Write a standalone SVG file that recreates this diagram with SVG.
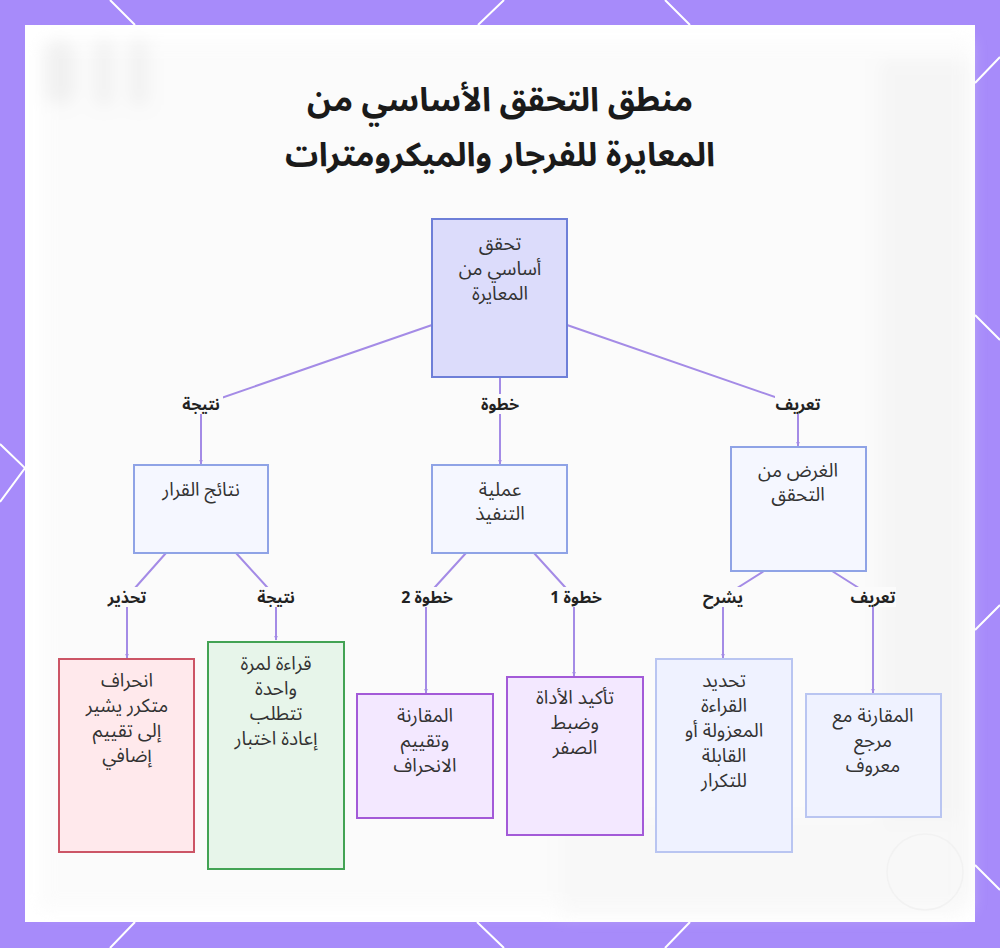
<svg xmlns="http://www.w3.org/2000/svg" width="1000" height="948" viewBox="0 0 1000 948">
<style>
.hex{stroke:#ffffff;stroke-width:2;fill:none}
.title{font-family:"Noto Sans Arabic","Noto Sans","DejaVu Sans",sans-serif;font-size:33px;font-weight:bold;fill:#1a1a1a;text-anchor:middle}
.nt{font-family:"Noto Sans Arabic","Noto Sans","DejaVu Sans",sans-serif;font-size:19px;fill:#333333;text-anchor:middle}
.el{font-family:"Noto Sans Arabic","Noto Sans","DejaVu Sans",sans-serif;font-size:16px;font-weight:bold;fill:#222222;text-anchor:middle}
.lbg{fill:#fbfbfb}
.edge{stroke:#a48be6;stroke-width:2;fill:none}
.root{fill:#dcdcfb;stroke:#6e7fd8;stroke-width:2}
.mid{fill:#f5f7ff;stroke:#8fa3e6;stroke-width:2}
.red{fill:#ffe9ec;stroke:#cc5566;stroke-width:2}
.green{fill:#e7f5ea;stroke:#43a354;stroke-width:2}
.purple{fill:#f3e8ff;stroke:#a35ad8;stroke-width:2}
.lblue{fill:#eff2ff;stroke:#b9c5f1;stroke-width:2}
</style>
<defs>
<filter id="blur" x="-50%" y="-50%" width="200%" height="200%"><feGaussianBlur stdDeviation="8"/></filter>
<marker id="arr" viewBox="0 0 10 10" refX="9" refY="5" markerWidth="2.5" markerHeight="2.5" orient="auto"><path d="M0,1 L10,5 L0,9 z" fill="#a48be6"/></marker>
</defs>
<rect x="0" y="0" width="1000" height="948" fill="#a78bfa"/>
<g id="hexlines">
<path class="hex" d="M110,0 L135,25 M504,0 L478,25 M665,0 L690,25"/>
<path class="hex" d="M1000,57 L975,83 M975,315 L1000,340 M975,630 L1000,605 M975,865 L1000,890"/>
<path class="hex" d="M0,444 L25,468 L0,502"/>
<path class="hex" d="M135,922 L110,948 M477,922 L504,948 M690,922 L665,948"/>
</g>
<rect x="25" y="25" width="950" height="897" fill="#ffffff"/>
<g id="background" filter="url(#blur)" opacity="0.5">
<rect x="40" y="40" width="930" height="870" fill="#f8f8f8"/>
<rect x="45" y="40" width="30" height="65" rx="15" fill="#e2e2e2"/>
<rect x="95" y="40" width="18" height="65" fill="#e4e4e4"/>
<rect x="130" y="40" width="18" height="65" fill="#e4e4e4"/>
<rect x="880" y="60" width="90" height="840" fill="#ededed"/>
<rect x="560" y="820" width="400" height="95" fill="#f2f2f2"/>
</g>
<circle cx="925" cy="872" r="38" fill="none" stroke="#f2f2f2" stroke-width="1.5"/>
<g id="title">
<text class="title" x="500" y="111">منطق التحقق الأساسي من</text>
<text class="title" x="500" y="166">المعايرة للفرجار والميكرومترات</text>
</g>
<g id="connectors">
<path class="edge" d="M432,325 L201,405 L201,464" marker-end="url(#arr)"/>
<path class="edge" d="M500,377 L500,464" marker-end="url(#arr)"/>
<path class="edge" d="M567,325 L798,405 L798,446" marker-end="url(#arr)"/>
<path class="edge" d="M166,553 L127,597 L127,658" marker-end="url(#arr)"/>
<path class="edge" d="M236,553 L276,597 L276,640" marker-end="url(#arr)"/>
<path class="edge" d="M466,553 L426,597 L426,693" marker-end="url(#arr)"/>
<path class="edge" d="M534,553 L574,597 L574,676" marker-end="url(#arr)"/>
<path class="edge" d="M764,571 L723,597 L723,658" marker-end="url(#arr)"/>
<path class="edge" d="M832,571 L873,597 L873,693" marker-end="url(#arr)"/>
<rect class="lbg" x="179" y="394" width="44" height="20"/>
<text class="el" x="201" y="410">نتيجة</text>
<rect class="lbg" x="477" y="394" width="46" height="20"/>
<text class="el" x="500" y="410">خطوة</text>
<rect class="lbg" x="775" y="394" width="46" height="20"/>
<text class="el" x="798" y="410">تعريف</text>
<rect class="lbg" x="104" y="587" width="46" height="20"/>
<text class="el" x="127" y="603">تحذير</text>
<rect class="lbg" x="254" y="587" width="44" height="20"/>
<text class="el" x="276" y="603">نتيجة</text>
<rect class="lbg" x="398" y="587" width="58" height="20"/>
<text class="el" x="427" y="603">خطوة 2</text>
<rect class="lbg" x="547" y="587" width="58" height="20"/>
<text class="el" x="576" y="603">خطوة 1</text>
<rect class="lbg" x="701" y="587" width="44" height="20"/>
<text class="el" x="723" y="603">يشرح</text>
<rect class="lbg" x="850" y="587" width="46" height="20"/>
<text class="el" x="873" y="603">تعريف</text>
</g>
<g id="node-root">
<rect class="root" x="432" y="219" width="135" height="158"/>
<text class="nt" x="500" y="250">تحقق</text>
<text class="nt" x="500" y="275">أساسي من</text>
<text class="nt" x="500" y="300">المعايرة</text>
</g>
<g id="node-results">
<rect class="mid" x="134" y="465" width="134" height="88"/>
<text class="nt" x="201" y="496">نتائج القرار</text>
</g>
<g id="node-process">
<rect class="mid" x="432" y="465" width="135" height="88"/>
<text class="nt" x="500" y="496">عملية</text>
<text class="nt" x="500" y="520">التنفيذ</text>
</g>
<g id="node-purpose">
<rect class="mid" x="731" y="447" width="135" height="124"/>
<text class="nt" x="798" y="477">الغرض من</text>
<text class="nt" x="798" y="501">التحقق</text>
</g>
<g id="node-drift">
<rect class="red" x="59" y="659" width="135" height="193"/>
<text class="nt" x="127" y="687">انحراف</text>
<text class="nt" x="127" y="712">متكرر يشير</text>
<text class="nt" x="127" y="737">إلى تقييم</text>
<text class="nt" x="127" y="762">إضافي</text>
</g>
<g id="node-retest">
<rect class="green" x="208" y="642" width="136" height="227"/>
<text class="nt" x="276" y="670">قراءة لمرة</text>
<text class="nt" x="276" y="695">واحدة</text>
<text class="nt" x="276" y="720">تتطلب</text>
<text class="nt" x="276" y="745">إعادة اختبار</text>
</g>
<g id="node-compare-eval">
<rect class="purple" x="357" y="694" width="136" height="124"/>
<text class="nt" x="425" y="722">المقارنة</text>
<text class="nt" x="425" y="747">وتقييم</text>
<text class="nt" x="425" y="772">الانحراف</text>
</g>
<g id="node-zero">
<rect class="purple" x="507" y="677" width="136" height="158"/>
<text class="nt" x="575" y="704">تأكيد الأداة</text>
<text class="nt" x="575" y="729">وضبط</text>
<text class="nt" x="575" y="754">الصفر</text>
</g>
<g id="node-identify">
<rect class="lblue" x="656" y="659" width="136" height="193"/>
<text class="nt" x="724" y="687">تحديد</text>
<text class="nt" x="724" y="712">القراءة</text>
<text class="nt" x="724" y="737">المعزولة أو</text>
<text class="nt" x="724" y="762">القابلة</text>
<text class="nt" x="724" y="787">للتكرار</text>
</g>
<g id="node-reference">
<rect class="lblue" x="806" y="694" width="135" height="123"/>
<text class="nt" x="873" y="722">المقارنة مع</text>
<text class="nt" x="873" y="747">مرجع</text>
<text class="nt" x="873" y="772">معروف</text>
</g>
</svg>
